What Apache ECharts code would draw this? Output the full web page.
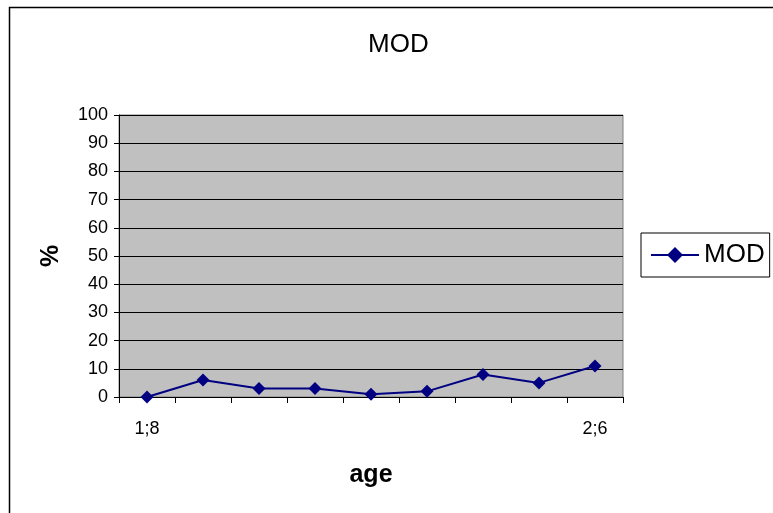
<!DOCTYPE html>
<html>
<head>
<meta charset="utf-8">
<script src="https://cdn.jsdelivr.net/npm/echarts@6/dist/echarts.min.js"></script>
<style>
    html, body { margin: 0; padding: 0; background: #fff; }
    #chart { width: 773px; height: 513px; }
</style>
</head>
<body>
<div id="chart"></div>
<script>
// ages: only the first and last are labelled in the original
var ages = ['1;8', '', '', '', '', '', '', '', '2;6'];
var modValues = [0, 6, 3, 3, 1, 2, 8, 5, 11];
var yTicks = {min: 0, max: 100, step: 10};

(function () {
    var font = '"Liberation Sans", Arial, sans-serif';
    var navy = '#000080';
    var myChart = echarts.init(document.getElementById('chart'), null, {renderer: 'canvas'});
    var option = {
        backgroundColor: '#ffffff',
        animation: false,
        textStyle: {fontFamily: font, color: '#000'},
        title: {
            text: 'MOD',
            left: 363,
            top: 27,
            textStyle: {fontSize: 26, fontWeight: 'normal', color: '#000', fontFamily: font}
        },
        graphic: [{
            type: 'rect',
            left: 7,
            top: 5,
            shape: {width: 800, height: 600},
            style: {fill: 'none', stroke: '#000', lineWidth: 1.5},
            z: -1
        }],
        legend: {
            left: 641,
            top: 233,
            orient: 'vertical',
            itemWidth: 48,
            itemHeight: 20,
            itemGap: 0,
            padding: [9, 5, 9, 9],
            borderColor: '#000',
            borderWidth: 1,
            textStyle: {fontSize: 26, color: '#000', fontFamily: font},
            data: ['MOD']
        },
        grid: {
            left: 119,
            right: 150,
            top: 115,
            bottom: 116,
            show: true,
            backgroundColor: '#c0c0c0',
            borderColor: '#808080',
            borderWidth: 1
        },
        xAxis: {
            type: 'category',
            data: ages,
            boundaryGap: true,
            name: 'age',
            nameLocation: 'middle',
            nameGap: 66,
            nameTextStyle: {fontSize: 25, fontWeight: 'bold', color: '#000', fontFamily: font},
            axisLine: {lineStyle: {color: '#000', width: 1}},
            axisTick: {show: true, length: 6, inside: false, lineStyle: {color: '#000'}},
            axisLabel: {interval: 0, fontSize: 18, color: '#000', margin: 23, fontFamily: font},
            splitLine: {show: false}
        },
        yAxis: {
            type: 'value',
            min: yTicks.min,
            max: yTicks.max,
            interval: yTicks.step,
            name: '%',
            nameLocation: 'middle',
            nameGap: 55,
            nameTextStyle: {fontSize: 25, fontWeight: 'bold', color: '#000', fontFamily: font},
            axisLine: {show: true, lineStyle: {color: '#000', width: 1}},
            axisTick: {show: true, length: 5, lineStyle: {color: '#000'}},
            axisLabel: {fontSize: 18, color: '#000', margin: 11, fontFamily: font},
            splitLine: {show: true, lineStyle: {color: '#000', width: 1}}
        },
        series: [{
            name: 'MOD',
            type: 'line',
            data: modValues,
            symbol: 'diamond',
            symbolSize: 13,
            color: navy,
            lineStyle: {color: navy, width: 2},
            itemStyle: {color: navy}
        }]
    };
    myChart.setOption(option, true);
})();
</script>
</body>
</html>
